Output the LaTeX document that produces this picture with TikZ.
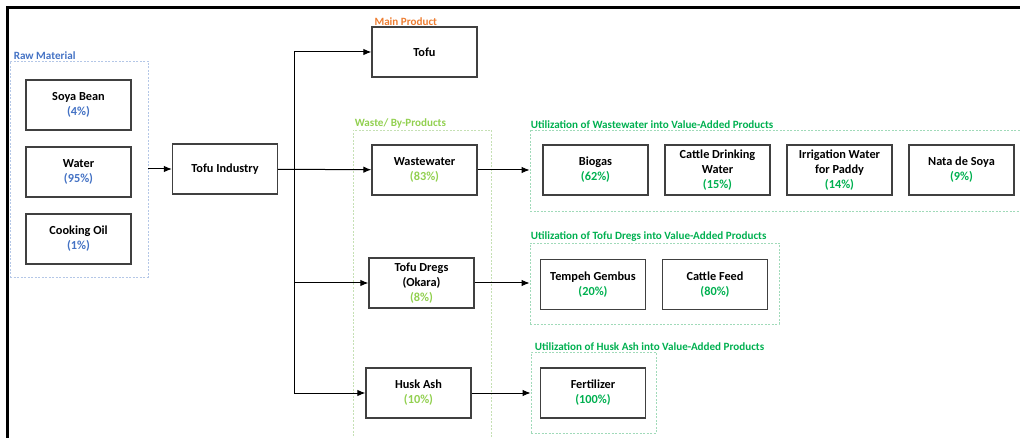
\documentclass[tikz,border=0pt]{standalone}
\usepackage{fontspec}
\setmainfont{Carlito}
\usepackage{xcolor}
\definecolor{raw_blue}{RGB}{68,114,196}
\definecolor{main_orange}{RGB}{237,125,49}
\definecolor{waste_green}{RGB}{146,208,80}
\definecolor{util_green}{RGB}{0,176,80}
\definecolor{box_gray}{RGB}{64,64,64}
\definecolor{raw_dash}{RGB}{180,199,231}
\definecolor{waste_dash}{RGB}{197,224,180}
\definecolor{util_dash}{RGB}{160,218,185}
\usetikzlibrary{arrows.meta}

\tikzset{
  item/.style={draw=box_gray, line width=1.3pt, minimum width=105pt, minimum height=50pt,
    inner sep=0pt, align=center, font=\bfseries\fontsize{12.3}{15}\selectfont},
  grp/.style={draw=#1, line width=0.8pt, dash pattern=on 2pt off 1.5pt, inner sep=0pt},
  tag/.style={anchor=south west, inner sep=1pt, font=\bfseries\fontsize{11.1}{12}\selectfont},
  link/.style={line width=1pt, -{Latex[length=8pt,width=6.5pt]}},
}

\begin{document}
\begin{tikzpicture}[x=1pt, y=-1pt]
\clip (0,0) rectangle (1020,438);
\draw [line width=3pt] (7,438) -- (7,8) -- (1020,8);

\node (rawgrp) [grp=raw_dash, minimum width=138pt, minimum height=216pt] at (79,169) {};
\node (wastegrp) [grp=waste_dash, minimum width=138pt, minimum height=330pt] at (422,295) {};
\node (wwgrp) [grp=util_dash, minimum width=500pt, minimum height=81pt] at (780,170.5) {};
\node (tdgrp) [grp=util_dash, minimum width=249pt, minimum height=81pt] at (654.5,283.5) {};
\node (hagrp) [grp=util_dash, minimum width=125pt, minimum height=81pt] at (593.5,392.5) {};

\node (soya) [item] at (78.5,105) {Soya Bean\\\color{raw_blue}(4\%)};
\node (water) [item] at (78.5,172) {Water\\\color{raw_blue}(95\%)};
\node (oil) [item] at (78.5,239) {Cooking Oil\\\color{raw_blue}(1\%)};
\node (tind) [item] at (225,169) {Tofu Industry};

\node (tofu) [item] at (424.5,52) {Tofu};
\node (ww) [item] at (424.5,170) {Wastewater\\\color{waste_green}(83\%)};
\node (dregs) [item] at (421.5,283) {Tofu Dregs\\(Okara)\\\color{waste_green}(8\%)};
\node (husk) [item] at (418.5,393) {Husk Ash\\\color{waste_green}(10\%)};

\node (biogas) [item] at (595.5,170) {Biogas\\\color{util_green}(62\%)};
\node (drink) [item] at (717.5,170) {Cattle Drinking\\Water\\\color{util_green}(15\%)};
\node (irrig) [item] at (839.5,170) {Irrigation Water\\for Paddy\\\color{util_green}(14\%)};
\node (nata) [item] at (961.5,170) {Nata de Soya\\\color{util_green}(9\%)};
\node (tempeh) [item] at (593,284.5) {Tempeh Gembus\\\color{util_green}(20\%)};
\node (feed) [item] at (715,284.5) {Cattle Feed\\\color{util_green}(80\%)};
\node (fert) [item] at (593,393) {Fertilizer\\\color{util_green}(100\%)};

\node [tag, text=raw_blue, xshift=3pt] at (rawgrp.north west) {Raw Material};
\node [tag, text=main_orange, xshift=2pt] at (tofu.north west) {Main Product};
\node [tag, text=waste_green, xshift=1pt] at (wastegrp.north west) {Waste/ By-Products};
\node [tag, text=util_green] at (wwgrp.north west) {Utilization of Wastewater into Value-Added Products};
\node [tag, text=util_green] at (tdgrp.north west) {Utilization of Tofu Dregs into Value-Added Products};
\node [tag, text=util_green, xshift=3pt] at (hagrp.north west) {Utilization of Husk Ash into Value-Added Products};

\coordinate (trunk) at (294,169);
\draw [link] (rawgrp) -- (tind);
\draw [link] (tind) -- (ww);
\draw [link] (trunk) |- (tofu);
\draw [link] (trunk) |- (dregs);
\draw [link] (trunk) |- (husk);
\draw [link] (ww) -- (ww.east -| wwgrp.west);
\draw [link] (dregs) -- (dregs.east -| tdgrp.west);
\draw [link] (husk) -- (husk.east -| hagrp.west);

\end{tikzpicture}
\end{document}
